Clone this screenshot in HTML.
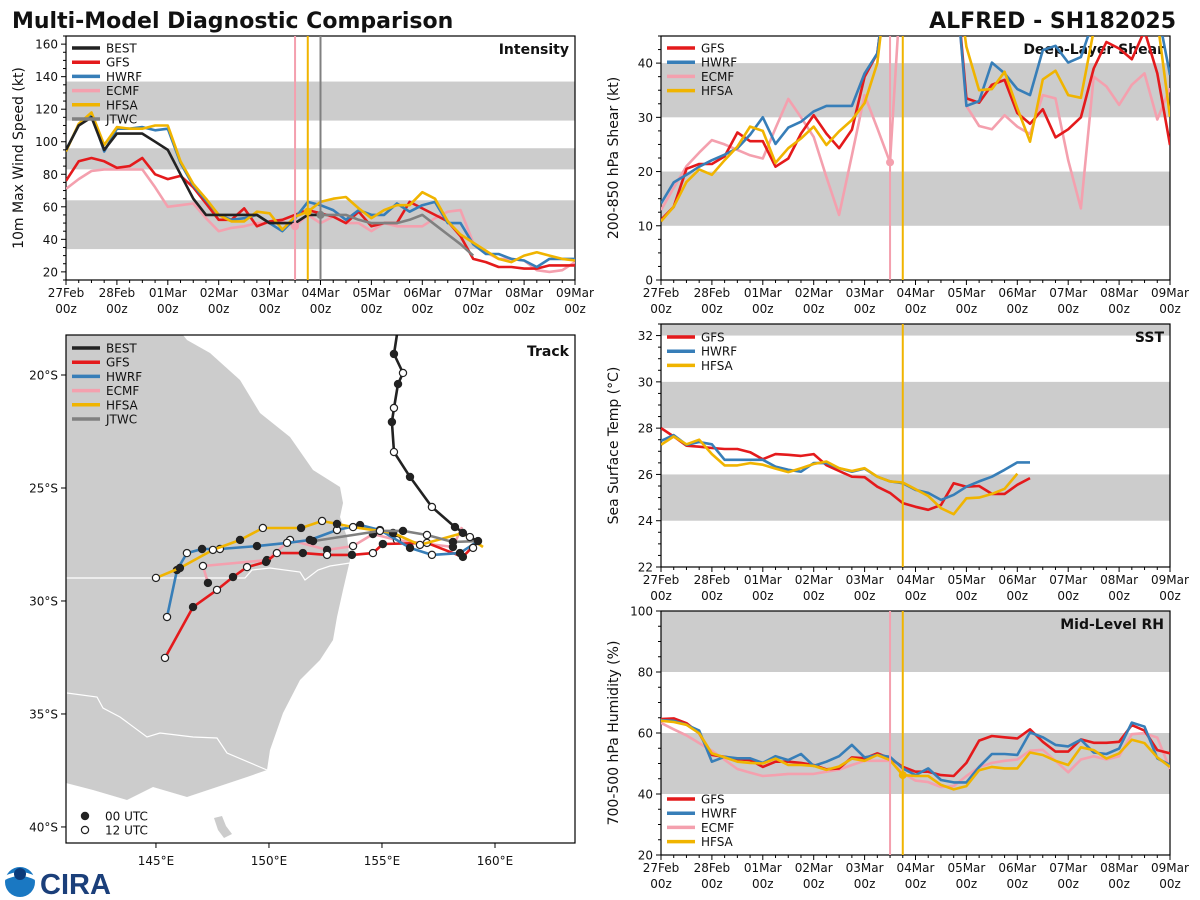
<!DOCTYPE html>
<html><head><meta charset="utf-8"><style>
html,body{margin:0;padding:0;background:#fff;}
svg{display:block;font-family:"DejaVu Sans","Liberation Sans",sans-serif;}
</style></head><body>
<svg id="root" width="1200" height="900" viewBox="0 0 1200 900" xmlns="http://www.w3.org/2000/svg">
<defs>
<clipPath id="clipInt"><rect x="66" y="36" width="509" height="244"/></clipPath>
<clipPath id="clipShr"><rect x="661" y="36" width="509" height="244"/></clipPath>
<clipPath id="clipSst"><rect x="661" y="324" width="509" height="243"/></clipPath>
<clipPath id="clipRh"><rect x="661" y="611" width="509" height="244"/></clipPath>
<clipPath id="clipTrk"><rect x="66" y="335" width="509" height="508"/></clipPath>
</defs>
<text x="12" y="28" font-size="22" font-weight="bold" fill="#111">Multi-Model Diagnostic Comparison</text>
<text x="1176" y="28" font-size="22" font-weight="bold" fill="#111" text-anchor="end">ALFRED - SH182025</text>
<g clip-path="url(#clipTrk)">
<path d="M66,335 L183,335 L187,340 L210,353 L240,380 L260,413 L290,437 L313,470 L340,487 L343,503 L340,517 L347,537 L350,560 L343,590 L337,617 L333,640 L320,660 L300,680 L283,713 L270,750 L267,770 L247,777 L217,787 L187,797 L153,787 L127,800 L93,790 L66,783 Z" fill="#cccccc"/>
<path d="M214,818 L222,816 L226,826 L232,834 L224,838 L218,830 Z" fill="#cccccc"/>
<polyline points="66,578 245,578 252,570 270,568 300,572 305,580 318,570 330,566 350,563" fill="none" stroke="#fff" stroke-width="1.2"/>
<polyline points="67,693 97,697 103,708 120,717 147,737 160,733 193,737 217,738 227,753 267,770" fill="none" stroke="#fff" stroke-width="1.2"/>
</g>
<g id="layer"></g>
<g>
<circle cx="20" cy="882" r="15" fill="#1a78c2"/>
<path d="M5,880 Q20,872 35,880 L35,876 Q20,868 5,876 Z" fill="#fff"/>
<circle cx="20" cy="874" r="6" fill="#0b3a7a"/>
<text x="40" y="894" font-size="29" font-weight="bold" fill="#1b3f7a" font-family="Liberation Sans, sans-serif">CIRA</text>
</g>
</svg>
<script>
// ---------- data ----------
const dayLabels = ['27Feb','28Feb','01Mar','02Mar','03Mar','04Mar','05Mar','06Mar','07Mar','08Mar','09Mar'];
const hourLabel = '00z';
// intensity (kt), 6-hourly from 27Feb 00z
const intBEST = [95,110,115,95,105,105,105,100,95,80,65,55,55,55,55,55,50,50,50,55,55];
const intGFS = [76,88,90,88,84,85,90,80,77,79,72,62,52,52,59,48,51,52,55,58,56,54,50,57,48,50,50,63,59,55,51,42,28,26,23,23,22,22,24,24,24];
const intHWRF = [95,110,117,94,108,108,109,107,108,87,73,64,55,52,53,55,50,45,53,63,61,58,52,58,55,55,62,57,61,63,50,50,37,31,31,28,27,23,28,28,28];
const intECMF = [71,77,82,83,83,83,83,72,60,61,62,53,45,47,48,50,50,51,48,55,50,54,50,50,45,50,48,48,48,53,57,58,38,32,28,28,27,21,20,21,26];
const intHFSA = [94,111,118,98,109,108,108,110,110,88,74,65,55,51,51,57,56,46,54,57,63,65,66,59,53,58,61,61,69,65,51,43,38,33,28,26,30,32,30,28,27];
const intJTWC = [55,55,55,52,50,50,50,52,55,49,43,37,30];
const jtwcStart = 20;
// deep-layer shear (kt)
const shrGFS = [11.1,13.5,20.5,21.4,21.4,22.8,27.2,25.6,25.6,20.9,22.4,27,30.4,27,24.3,27.7,37.5,41.8,60,60,60,60,60,60,33.5,32.7,36,36.9,30.8,28.8,31.5,26.3,27.8,30,39,43.9,42.7,40.7,46,38.1,24.9];
const shrHWRF = [14.1,18,19.4,20.9,22.1,23.1,24.3,26.8,30,25.1,28.1,29.2,31.1,32.1,32.1,32.1,38.1,41.8,60,60,60,60,60,60,32.1,33,40.1,38.1,35.2,34.1,42.4,43.2,40.1,41.1,48,50,50,50,50,50,37.8];
const shrECMF = [12.9,17,21,23.5,25.8,25,24,23,22.4,28,33.4,30,26.4,19,12,23,34.1,28,21.7,60,60,60,60,60,32.1,28.4,27.8,30.4,28.3,26.9,34.1,33.5,22.1,13.2,37.5,35.7,32.3,36,38.1,29.6,35.4];
const shrHFSA = [10.8,13.5,18.1,20.4,19.4,22.1,24.6,28.3,27.5,21.6,24.3,26.1,28.3,24.9,27.4,29.5,32.6,40,60,60,60,60,60,60,43,35,35.2,38.4,31.7,25.5,37,38.6,34.1,33.6,46,50,50,50,50,48,30.1];
// SST (C)
const sstGFS = [28.0,27.64,27.24,27.2,27.14,27.1,27.1,26.96,26.66,26.88,26.85,26.8,26.88,26.4,26.15,25.9,25.88,25.47,25.2,24.76,24.6,24.47,24.68,25.62,25.47,25.5,25.16,25.16,25.55,25.84];
const sstHWRF = [27.45,27.7,27.28,27.4,27.3,26.63,26.63,26.63,26.63,26.34,26.2,26.12,26.49,26.49,26.27,26.12,26.25,25.9,25.7,25.62,25.33,25.2,24.9,25.12,25.47,25.7,25.9,26.2,26.52,26.52];
const sstHFSA = [27.28,27.64,27.3,27.5,26.88,26.39,26.39,26.49,26.42,26.25,26.1,26.27,26.45,26.56,26.27,26.15,26.27,25.9,25.7,25.65,25.36,25.07,24.54,24.28,24.97,25.0,25.16,25.38,26.03];
// mid-level RH (%)
const rhGFS = [64.6,64.8,63.2,59.9,52.8,52.2,51.4,51.1,48.9,50.6,50.6,50.2,49.5,48.1,48.4,52,51.7,53.3,51.7,48.9,47.3,47.3,46.2,45.9,50.2,57.5,59,58.6,58.2,61.2,57.1,53.9,53.9,57.9,56.8,56.8,57.1,62.6,60.8,54.4,53.3];
const rhHWRF = [64.2,64,62.7,60.8,50.6,52.2,51.7,51.7,50.2,52.4,51.1,53.1,49.2,50.6,52.4,56.1,52,52.8,52.2,48.4,46.2,48.4,44.6,43.8,43.8,48.9,53.1,53.1,52.8,60.2,58.6,56.1,55.6,57.8,53.6,53.1,54.9,63.4,62.1,51.7,49.5];
const rhECMF = [63.3,61.2,59.2,56.7,54.2,51.2,48.2,47,45.9,46.2,46.6,46.6,46.6,47.3,48,49.5,50.9,50.9,50.9,46.9,44.4,43.9,42.3,42.6,45.9,48.8,50.2,50.9,51.3,54.2,54.5,50.9,47.1,51.3,52.4,51.3,52.4,59.6,59.9,58.5,48.2];
const rhHFSA = [64,63.6,62.7,59.9,53.3,52,50.6,50.2,50,51.6,49.5,49.5,49.2,47.9,49,51.6,50.9,52.8,51.1,46.2,45.9,45.9,43,41.5,42.6,47.8,48.9,48.4,48.4,53.6,52.8,50.9,49.5,55.3,54.4,51.6,53.3,57.8,56.7,52,48.9];
// reference-time markers (6h index)
const markECMF = 18, markHFSA = 19, markJTWC = 20;
// tracks (lon E, lat)
const trkBESTlon = [155.66,155.53,155.93,155.71,155.53,155.44,155.53,156.24,157.21,158.23,158.89,159.25,159.03];
const trkBESTlat = [-18.23,-19.07,-19.91,-20.40,-21.46,-22.08,-23.41,-24.51,-25.84,-26.73,-27.17,-27.35,-27.65];
const trkGFSlon = [159.25,158.58,156.99,155.04,154.60,153.67,152.57,151.50,150.35,149.87,149.03,148.41,147.70,146.64,145.40];
const trkGFSlat = [-27.35,-28.05,-27.43,-27.48,-27.88,-27.96,-27.96,-27.88,-27.88,-28.27,-28.50,-28.94,-29.51,-30.27,-32.52];
const trkHWRFlon = [159.25,158.45,157.21,156.24,154.91,154.03,153.01,151.81,150.80,149.47,147.83,147.04,146.37,145.93,145.49];
const trkHWRFlat = [-27.35,-27.88,-27.96,-27.65,-26.86,-26.64,-26.86,-27.30,-27.43,-27.57,-27.70,-27.70,-27.88,-28.63,-30.71];
const trkECMFlon = [158.54,158.14,155.66,154.60,153.72,152.57,150.93,149.91,147.08,147.30];
const trkECMFlat = [-26.73,-27.61,-27.30,-27.04,-27.57,-27.74,-27.30,-28.19,-28.45,-29.20];
const trkHFSAlon = [159.47,158.58,156.68,155.49,153.72,153.01,152.35,151.42,149.73,148.72,147.52,146.06,145.0];
const trkHFSAlat = [-27.61,-26.99,-27.52,-26.99,-26.73,-26.59,-26.46,-26.77,-26.77,-27.30,-27.74,-28.54,-28.98];
const trkJTWClon = [159.25,158.14,156.99,155.93,154.91,151.95];
const trkJTWClat = [-27.35,-27.39,-27.08,-26.90,-26.90,-27.35];
const lonTicks = [145,150,155,160];
const latTicks = [-20,-25,-30,-35,-40];

// ---------- drawing ----------
const NS = 'http://www.w3.org/2000/svg';
const layer = document.getElementById('layer');
function mk(tag, attrs, parent) {
  const e = document.createElementNS(NS, tag);
  for (const k in attrs) e.setAttribute(k, attrs[k]);
  (parent || layer).appendChild(e);
  return e;
}
const C = {BEST:'#222222', GFS:'#e41a1c', HWRF:'#377eb8', ECMF:'#f4a0ae', HFSA:'#f0b400', JTWC:'#808080'};

function panel(p) {
  const g = mk('g', {});
  
  
  p.g = g;
  p.y = v => p.top + (p.ymax - v) / (p.ymax - p.ymin) * p.h;
  p.x = i => p.left + i * p.w / 40;
  p.bands.forEach(b => {
    const y1 = p.y(Math.min(b[1], p.ymax)), y2 = p.y(b[0]);
    const r = mk('rect', {x:p.left, y:y1, width:p.w, height:y2 - y1, fill:'#cccccc'}, g);
    
    
  });
  const fr = mk('rect', {x:p.left, y:p.top, width:p.w, height:p.h, fill:'none', stroke:'#000', 'stroke-width':1.2}, g);
  
  
  const startMinor = p.ymin0 - Math.floor((p.ymin0 - p.ymin) / p.minor) * p.minor;
  for (let v = startMinor; v <= p.ymax + 1e-6; v += p.minor) {
    const r = (v - p.ymin0) / p.major;
    const isMaj = v >= p.ymin0 - 1e-6 && Math.abs(r - Math.round(r)) < 1e-6;
    const yy = p.y(v);
    const t = mk('line', {x1:p.left - (isMaj ? 5 : 3), x2:p.left, y1:yy, y2:yy, stroke:'#000', 'stroke-width':1}, g);
    
    
    if (isMaj) {
      const tl = mk('text', {x:p.left - 8, y:yy + 4.5, 'font-size':12, 'text-anchor':'end', fill:'#111'}, g);
      tl.textContent = Math.round(v);
      
      
    }
  }
  for (let i = 0; i <= 40; i++) {
    const xx = p.x(i), maj = i % 4 === 0;
    const t = mk('line', {x1:xx, x2:xx, y1:p.top + p.h, y2:p.top + p.h + (maj ? 5 : 3), stroke:'#000', 'stroke-width':1}, g);
    
    
    if (maj) {
      const l1 = mk('text', {x:xx, y:p.top + p.h + 17, 'font-size':12, 'text-anchor':'middle', fill:'#111'}, g);
      l1.textContent = dayLabels[i / 4];
      
      
      const l2 = mk('text', {x:xx, y:p.top + p.h + 33, 'font-size':12, 'text-anchor':'middle', fill:'#111'}, g);
      l2.textContent = hourLabel;
      
      
    }
  }
  const yt = mk('text', {x:0, y:0, 'font-size':14, 'text-anchor':'middle', fill:'#111', transform:`translate(${p.left - 43},${p.top + p.h / 2}) rotate(-90)`}, g);
  yt.textContent = p.ytitle;
  
  
  const pl = mk('text', {x:p.left + p.w - 6, y:p.top + 18, 'font-size':14, 'font-weight':'bold', 'text-anchor':'end', fill:'#111'}, g);
  pl.textContent = p.label;
  
  
  p.sg = mk('g', {'clip-path':`url(#${p.clip})`}, g);
  
  
  return p;
}
function series(p, vals, model, start) {
  start = start || 0;
  const pts = vals.map((v, i) => `${p.x(i + start).toFixed(1)},${p.y(v).toFixed(1)}`).join(' ');
  const l = mk('polyline', {points:pts, fill:'none', stroke:C[model], 'stroke-width':2.6, 'stroke-linejoin':'round'}, p.sg);
  
  
}
function vline(p, idx, model, val) {
  const xx = p.x(idx);
  const l = mk('line', {x1:xx, x2:xx, y1:p.top, y2:p.top + p.h, stroke:C[model], 'stroke-width':2}, p.sg);
  
  
  if (val !== undefined) {
    const c = mk('circle', {cx:xx, cy:p.y(val), r:4, fill:C[model]}, p.sg);
    
    
  }
}
function legend(p, x, y, models) {
  models.forEach((m, k) => {
    const yy = y + k * 14.2;
    const l = mk('line', {x1:x, x2:x + 28, y1:yy, y2:yy, stroke:C[m], 'stroke-width':3.5}, p.g);
    
    
    const t = mk('text', {x:x + 34, y:yy + 4.5, 'font-size':12, fill:'#111'}, p.g);
    t.textContent = m;
    
    
  });
}

// Intensity
const pi = panel({name:'intensity', left:66, top:36, w:509, h:244, ymin:15, ymax:165, ymin0:20, major:20, minor:5, bands:[[34,64],[83,96],[113,137]], ytitle:'10m Max Wind Speed (kt)', label:'Intensity', clip:'clipInt'});
series(pi, intECMF, 'ECMF'); series(pi, intGFS, 'GFS'); series(pi, intHWRF, 'HWRF'); series(pi, intHFSA, 'HFSA');
series(pi, intJTWC, 'JTWC', jtwcStart); series(pi, intBEST, 'BEST');
vline(pi, markECMF, 'ECMF', intECMF[markECMF]); vline(pi, markHFSA, 'HFSA', intHFSA[markHFSA]); vline(pi, markJTWC, 'JTWC', intJTWC[markJTWC - jtwcStart]);
legend(pi, 72, 48, ['BEST','GFS','HWRF','ECMF','HFSA','JTWC']);

// Shear
const ps = panel({name:'shear', left:661, top:36, w:509, h:244, ymin:0, ymax:45, ymin0:0, major:10, minor:2.5, bands:[[10,20],[30,40]], ytitle:'200-850 hPa Shear (kt)', label:'Deep-Layer Shear', clip:'clipShr'});
series(ps, shrECMF, 'ECMF'); series(ps, shrGFS, 'GFS'); series(ps, shrHWRF, 'HWRF'); series(ps, shrHFSA, 'HFSA');
vline(ps, markECMF, 'ECMF', shrECMF[markECMF]); vline(ps, markHFSA, 'HFSA');
legend(ps, 667, 48, ['GFS','HWRF','ECMF','HFSA']);

// SST
const pt = panel({name:'sst', left:661, top:324, w:509, h:243, ymin:22, ymax:32.5, ymin0:22, major:2, minor:0.5, bands:[[24,26],[28,30],[32,34]], ytitle:'Sea Surface Temp (°C)', label:'SST', clip:'clipSst'});
series(pt, sstGFS, 'GFS'); series(pt, sstHWRF, 'HWRF'); series(pt, sstHFSA, 'HFSA');
vline(pt, markHFSA, 'HFSA');
legend(pt, 667, 337, ['GFS','HWRF','HFSA']);

// RH
const pr = panel({name:'rh', left:661, top:611, w:509, h:244, ymin:20, ymax:100, ymin0:20, major:20, minor:5, bands:[[40,60],[80,100]], ytitle:'700-500 hPa Humidity (%)', label:'Mid-Level RH', clip:'clipRh'});
series(pr, rhECMF, 'ECMF'); series(pr, rhGFS, 'GFS'); series(pr, rhHWRF, 'HWRF'); series(pr, rhHFSA, 'HFSA');
vline(pr, markECMF, 'ECMF'); vline(pr, markHFSA, 'HFSA', rhHFSA[markHFSA]);
legend(pr, 667, 799, ['GFS','HWRF','ECMF','HFSA']);

// Track
const tk = {left:66, top:335, w:509, h:508, lon0:141.02, lon1:163.54, lat0:-18.23, lat1:-40.71};
const lx = lon => tk.left + (lon - tk.lon0) / (tk.lon1 - tk.lon0) * tk.w;
const ly = lat => tk.top + (tk.lat0 - lat) / (tk.lat0 - tk.lat1) * tk.h;
const tg = mk('g', {});


const tsg = mk('g', {'clip-path':'url(#clipTrk)'}, tg);


function track(lons, lats, model, mStart) {
  const pts = lons.map((v, i) => `${lx(v).toFixed(1)},${ly(lats[i]).toFixed(1)}`).join(' ');
  const l = mk('polyline', {points:pts, fill:'none', stroke:C[model], 'stroke-width':2.6, 'stroke-linejoin':'round'}, tsg);
  
  
  lons.forEach((v, i) => {
    if (i < mStart) return;
    const filled = (i - mStart) % 2 === 0;
    const c = mk('circle', {cx:lx(v), cy:ly(lats[i]), r:3.6, fill:filled ? '#222' : '#fff', stroke:'#222', 'stroke-width':1.2}, tsg);
    
    
  });
}
track(trkECMFlon, trkECMFlat, 'ECMF', 1);
track(trkGFSlon, trkGFSlat, 'GFS', 1);
track(trkHWRFlon, trkHWRFlat, 'HWRF', 1);
track(trkHFSAlon, trkHFSAlat, 'HFSA', 1);
track(trkJTWClon, trkJTWClat, 'JTWC', 1);
track(trkBESTlon, trkBESTlat, 'BEST', 1);
const tfr = mk('rect', {x:tk.left, y:tk.top, width:tk.w, height:tk.h, fill:'none', stroke:'#000', 'stroke-width':1.2}, tg);


lonTicks.forEach(v => {
  const xx = lx(v);
  const t = mk('line', {x1:xx, x2:xx, y1:tk.top + tk.h, y2:tk.top + tk.h + 5, stroke:'#000'}, tg);
  
  
  const tl = mk('text', {x:xx, y:tk.top + tk.h + 22, 'font-size':12, 'text-anchor':'middle', fill:'#111'}, tg);
  tl.textContent = v + '°E';
  
  
});
latTicks.forEach(v => {
  const yy = ly(v);
  const t = mk('line', {x1:tk.left - 5, x2:tk.left, y1:yy, y2:yy, stroke:'#000'}, tg);
  
  
  const tl = mk('text', {x:tk.left - 8, y:yy + 4.5, 'font-size':12, 'text-anchor':'end', fill:'#111'}, tg);
  tl.textContent = Math.abs(v) + '°S';
  
  
});
const tlab = mk('text', {x:569, y:356, 'font-size':14, 'font-weight':'bold', 'text-anchor':'end', fill:'#111'}, tg);
tlab.textContent = 'Track';


legend({g:tg}, 72, 348, ['BEST','GFS','HWRF','ECMF','HFSA','JTWC']);
[['00 UTC', '#222'], ['12 UTC', '#fff']].forEach((e, k) => {
  const yy = 816 + k * 14;
  const c = mk('circle', {cx:85, cy:yy, r:3.6, fill:e[1], stroke:'#222', 'stroke-width':1.2}, tg);
  
  
  const t = mk('text', {x:105, y:yy + 4.5, 'font-size':12, fill:'#111'}, tg);
  t.textContent = e[0];
  
  
});
</script>
</body></html>
